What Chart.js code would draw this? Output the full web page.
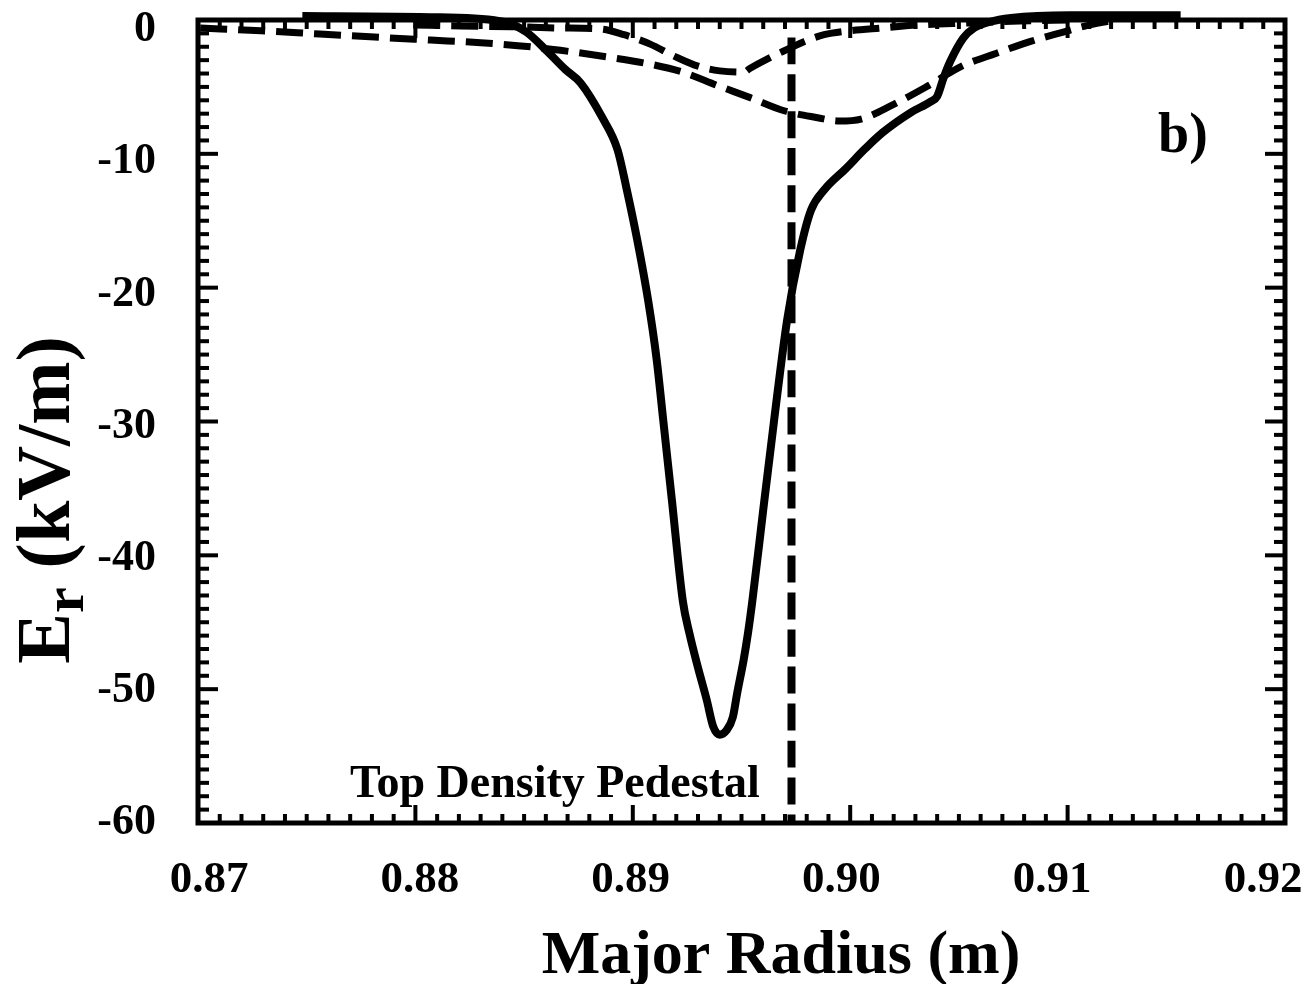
<!DOCTYPE html>
<html>
<head>
<meta charset="utf-8">
<script src="https://cdn.jsdelivr.net/npm/chart.js@4.4.0/dist/chart.umd.min.js"></script>
<style>
  html, body { margin: 0; padding: 0; background: #fff; }
  #wrap { width: 1308px; height: 984px; }
</style>
</head>
<body>
<div id="wrap"><canvas id="erChart" width="1308" height="984"></canvas></div>
<script>
// Er profile (solid): major radius (m) / Er (kV/m)
const erR = [0.8748, 0.8811, 0.8841, 0.8851, 0.8861, 0.8869, 0.8876, 0.8886, 0.8893, 0.8897,
  0.8902, 0.8907, 0.8911, 0.8914, 0.8918, 0.8923, 0.8926, 0.8930, 0.8934, 0.8937,
  0.8940, 0.8943, 0.8946, 0.8948, 0.8951, 0.8953, 0.8955, 0.8960, 0.8965, 0.8971,
  0.8977, 0.8982, 0.8988, 0.8998, 0.9007, 0.9015, 0.9028, 0.9037, 0.9040, 0.9043,
  0.9046, 0.9052, 0.9057, 0.9064, 0.9074, 0.9101, 0.9152];
const erV = [0.3, 0.2, -0.15, -0.9, -2.4, -3.7, -4.7, -7.3, -9.7, -12.5,
  -16.4, -20.9, -25.4, -29.9, -35.9, -43.4, -45.8, -48.4, -50.8, -52.8,
  -53.4, -53.1, -52.1, -50.3, -47.8, -45.8, -43.4, -36.6, -29.9, -22.4,
  -17.2, -14.2, -12.7, -11.1, -9.6, -8.4, -6.9, -6.1, -5.7, -4.3,
  -3.1, -1.35, -0.6, -0.15, 0.15, 0.35, 0.35];

// wide dashed curve
const wideR = [0.8701, 0.8729, 0.8756, 0.8784, 0.8807, 0.8830, 0.8853, 0.8873, 0.8890, 0.8908,
  0.8923, 0.8939, 0.8954, 0.8970, 0.8985, 0.8995, 0.9005, 0.9020, 0.9036, 0.9052,
  0.9067, 0.9083, 0.9098, 0.9108, 0.9120];
const wideV = [-0.6, -0.8, -1.05, -1.3, -1.5, -1.7, -2.0, -2.4, -2.8, -3.3,
  -3.9, -4.9, -5.8, -6.8, -7.3, -7.55, -7.4, -6.3, -4.9, -3.4,
  -2.5, -1.6, -0.9, -0.45, -0.05];

// narrow dashed curve
const narrowR = [0.8799, 0.8821, 0.8844, 0.8867, 0.8885, 0.8896, 0.8908, 0.8919, 0.8930, 0.8940,
  0.8951, 0.8954, 0.8962, 0.8971, 0.8979, 0.8988, 0.9000, 0.9014, 0.9032, 0.9055,
  0.9078, 0.9101];
const narrowV = [-0.37, -0.45, -0.5, -0.6, -0.67, -1.1, -1.8, -2.7, -3.45, -3.8,
  -3.9, -3.6, -2.9, -2.2, -1.6, -1.1, -0.8, -0.6, -0.37, -0.22,
  -0.07, 0];

// top of density pedestal marker
const pedestalR = [0.8973, 0.8973];
const pedestalV = [-1.3, -60];

const xTicks = [0.87, 0.88, 0.89, 0.90, 0.91, 0.92];
const yTicks = [0, -10, -20, -30, -40, -50, -60];

const FONT = '"Liberation Serif", "Times New Roman", serif';

function toPoints(xs, ys) {
  return xs.map((x, i) => ({ x: x, y: ys[i] }));
}

const framePlugin = {
  id: 'frame',
  afterDatasetsDraw(chart) {
    const { ctx, chartArea: a, scales: { x, y } } = chart;
    ctx.save();
    ctx.strokeStyle = '#000';
    ctx.lineCap = 'butt';
    const seg = (x1, y1, x2, y2) => {
      ctx.beginPath(); ctx.moveTo(x1, y1); ctx.lineTo(x2, y2); ctx.stroke();
    };
    ctx.lineWidth = 4;
    // minor ticks every 0.001 m, major every 0.01 m
    for (let i = 0; i <= 50; i++) {
      const px = x.getPixelForValue(0.87 + i * 0.001);
      const len = i % 10 === 0 ? 18 : 9;
      seg(px, a.bottom, px, a.bottom - len);
      seg(px, a.top, px, a.top + len);
    }
    // minor ticks every 1 kV/m
    for (let i = 0; i <= 60; i++) {
      const py = y.getPixelForValue(-i);
      const len = i % 10 === 0 ? 20 : 11;
      seg(a.left, py, a.left + len, py);
      seg(a.right, py, a.right - len, py);
    }
    ctx.lineWidth = 5;
    ctx.strokeRect(a.left, a.top, a.right - a.left, a.bottom - a.top);
    ctx.restore();
  },
  afterDraw(chart) {
    const { ctx } = chart;
    ctx.save();
    ctx.fillStyle = '#000';
    ctx.textBaseline = 'alphabetic';

    // x axis title
    ctx.font = 'bold 62px ' + FONT;
    ctx.textAlign = 'center';
    ctx.fillText('Major Radius (m)', 781, 973);

    // y axis title with subscript r
    ctx.save();
    ctx.translate(69, 500);
    ctx.rotate(-Math.PI / 2);
    const big = 'bold 76px ' + FONT;
    const small = 'bold 58px ' + FONT;
    ctx.font = big;
    const wE = ctx.measureText('E').width;
    const wRest = ctx.measureText(' (kV/m)').width;
    ctx.font = small;
    const wr = ctx.measureText('r').width;
    let cx = -(wE + wr + wRest) / 2;
    ctx.textAlign = 'left';
    ctx.font = big;
    ctx.fillText('E', cx, 0);
    cx += wE;
    ctx.font = small;
    ctx.fillText('r', cx, 14);
    cx += wr;
    ctx.font = big;
    ctx.fillText(' (kV/m)', cx, 0);
    ctx.restore();

    // panel tag and annotation
    ctx.textAlign = 'left';
    ctx.font = 'bold 56px ' + FONT;
    ctx.fillText('b)', 1158, 152);
    ctx.font = 'bold 46px ' + FONT;
    ctx.fillText('Top Density Pedestal', 350, 797);
    ctx.restore();
  }
};

const lineBase = {
  showLine: true,
  pointRadius: 0,
  borderColor: '#000',
  backgroundColor: '#000',
  fill: false,
  cubicInterpolationMode: 'monotone',
  clip: false
};

new Chart(document.getElementById('erChart').getContext('2d'), {
  type: 'scatter',
  data: {
    datasets: [
      Object.assign({}, lineBase, { label: 'Er', data: toPoints(erR, erV), borderWidth: 8 }),
      Object.assign({}, lineBase, { label: 'wide', data: toPoints(wideR, wideV), borderWidth: 7, borderDash: [27, 11] }),
      Object.assign({}, lineBase, { label: 'narrow', data: toPoints(narrowR, narrowV), borderWidth: 7, borderDash: [27, 11] }),
      Object.assign({}, lineBase, { label: 'pedestal', data: toPoints(pedestalR, pedestalV), borderWidth: 8, borderDash: [27, 10] })
    ]
  },
  options: {
    responsive: false,
    animation: false,
    devicePixelRatio: 1,
    layout: { padding: { top: 20, right: 23, left: 0, bottom: 0 } },
    plugins: {
      legend: { display: false },
      tooltip: { enabled: false }
    },
    scales: {
      // data axes; the printed labels are carried by xl / yl
      x: { type: 'linear', min: 0.87, max: 0.92, display: false },
      y: { type: 'linear', min: -60, max: 0, display: false },
      // label axes: the printed tick labels sit slightly off the ticks in the original
      xl: {
        type: 'linear',
        position: 'bottom',
        min: 0.869478,
        max: 0.921043,
        grid: { display: false, drawTicks: false },
        border: { display: false },
        afterBuildTicks: s => { s.ticks = xTicks.map(v => ({ value: v })); },
        afterFit: s => { s.height = 984 - 823; s.paddingLeft = 0; s.paddingRight = 0; },
        ticks: {
          autoSkip: false,
          maxRotation: 0,
          padding: 30,
          color: '#000',
          font: { family: FONT, size: 45, weight: 'bold' },
          callback: v => v.toFixed(2)
        }
      },
      yl: {
        type: 'linear',
        position: 'left',
        min: -60,
        max: 0.75,
        grid: { display: false, drawTicks: false },
        border: { display: false },
        afterBuildTicks: s => { s.ticks = yTicks.map(v => ({ value: v })); },
        afterFit: s => { s.width = 198; s.paddingTop = 0; s.paddingBottom = 0; },
        ticks: {
          autoSkip: false,
          padding: 42,
          color: '#000',
          font: { family: FONT, size: 44, weight: 'bold' },
          callback: v => String(v)
        }
      }
    }
  },
  plugins: [framePlugin]
});
</script>
</body>
</html>
